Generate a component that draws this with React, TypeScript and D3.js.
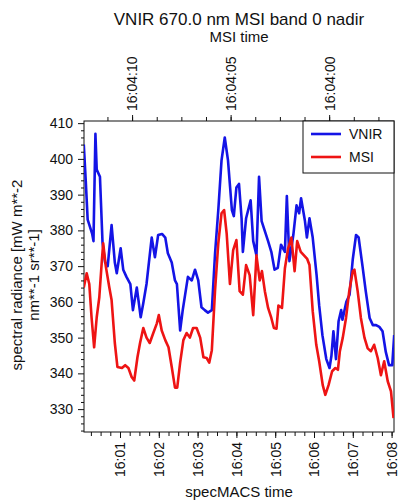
import { useRef, useEffect } from 'react'
import * as d3 from 'd3'

const width = 399
const height = 501
const margin = { top: 121, right: 5, bottom: 69, left: 84 }

// seconds after 16:00:00 (specMACS time) and radiance values
const vnirTime = [4, 7, 10, 17, 19, 22, 24, 29, 33, 37, 41, 47, 52, 55, 61, 65, 70, 76, 80, 86, 92, 96, 101, 109, 114, 119, 125, 130, 134, 140, 145, 148, 153, 157, 165, 171, 176, 181, 186, 191, 196, 202, 207, 212, 217, 222, 227, 233, 236, 240, 244, 248, 250, 255, 262, 266, 271, 275, 279, 284, 289, 294, 299, 304, 309, 315, 318, 322, 328, 333, 337, 340, 346, 349, 353, 358, 364, 368, 373, 379, 384, 387, 390, 394, 398, 402, 404, 410, 415, 420, 425, 429, 435, 440, 446, 451, 456, 461, 466, 471, 476, 481, 484]
const vnirRadiance = [404, 394, 383, 379, 377, 407, 397, 395, 376.5, 371, 370, 381.5, 371, 368, 375, 369, 367, 365, 357.7, 364, 355.7, 359.6, 365, 378, 372.5, 378.7, 379, 378, 373.6, 371, 366, 365, 352, 357.7, 367, 366, 369, 366, 358.5, 357.7, 357, 357.7, 373.6, 385.7, 399.6, 406, 399.6, 385.7, 384, 392, 393, 383.4, 374, 383.4, 388.4, 377, 373, 395, 382.6, 379.8, 377, 374, 369, 369.5, 376, 374, 389.6, 371.4, 378.7, 387, 384.8, 389, 382.6, 378, 383.4, 378, 367.5, 359, 350.7, 344, 341.5, 345, 351.8, 344, 354.6, 357.7, 355, 360, 362, 372, 378.7, 378, 370, 363, 355.5, 353.5, 353.5, 353, 351.8, 346, 342.3, 342.3, 350.7]

const msiTime = [4, 8.5, 12.5, 16, 20, 24, 28, 32, 34, 38, 43.5, 47, 52, 56, 63, 68, 73, 78, 82, 87, 91, 96, 101, 106, 111.5, 117, 120, 124.5, 130, 135, 140, 145, 148.5, 153, 158, 163, 168, 173, 178.5, 184, 189, 194, 198, 202, 207, 212, 217, 221, 225, 230, 235, 240, 245, 250, 255, 260.5, 266, 271, 276, 279.5, 284, 289, 294, 298, 302, 305, 310.5, 315, 320, 325, 330, 334, 339.5, 344.5, 349.5, 353, 358, 363.5, 368, 373.5, 377.5, 382.5, 388, 393, 397, 400, 404.5, 409.5, 414.5, 420, 422.5, 427.5, 432.5, 438, 443, 448, 453, 458.5, 463.5, 468.5, 474, 479, 483]
const msiRadiance = [364, 368, 365, 355.7, 347.3, 355.7, 361.3, 371.7, 376.4, 370, 364, 360.5, 348.5, 341.8, 341.5, 342.3, 341.5, 339, 338, 344.5, 348.5, 352.7, 350, 348.5, 351.3, 354, 356.3, 352, 349.3, 347.3, 341.8, 336, 336, 343, 349.3, 351.3, 350, 352.7, 352.7, 350, 344.5, 344.3, 343, 346.5, 363.3, 376.4, 384.8, 385.7, 379, 365, 374.5, 377.3, 363, 362, 370.3, 367.5, 356.3, 373, 366, 368.6, 363, 358.3, 355.5, 352.7, 352.5, 359, 358.3, 369.4, 375, 378, 368.6, 377, 374, 373, 372, 370.3, 357.4, 348, 343.4, 336.7, 334, 336.7, 340.6, 341.5, 341, 346.2, 350, 355.5, 363, 368.6, 369, 363, 355.5, 350, 347, 346.2, 348, 344.3, 339.5, 343.4, 337.8, 335, 327.5]

const specmacsTicks = ['16:01', '16:02', '16:03', '16:04', '16:05', '16:06', '16:07', '16:08']
const msiTicks = ['16:04:10', '16:04:05', '16:04:00']
const radianceTicks = [330, 340, 350, 360, 370, 380, 390, 400, 410]

const seriesNames = ['VNIR', 'MSI']
const seriesColors = ['#1414e6', '#ee1414']

const font = 'Liberation Sans, Arial, Helvetica, sans-serif'

const App = () => {
  const svgRef = useRef<SVGSVGElement>(null)

  useEffect(() => {
    const svg = d3.select(svgRef.current)
    svg.selectAll('*').remove()

    const innerW = width - margin.left - margin.right
    const innerH = height - margin.top - margin.bottom
    const base = d3.utcParse('%H:%M')('16:00') as Date
    const at = (s: number) => new Date(base.getTime() + s * 1000)
    const parseSec = d3.utcParse('%H:%M:%S')
    const parseMin = d3.utcParse('%H:%M')

    const x = d3.scaleUtc().domain([at(4.33), at(483.7)]).range([0, innerW])
    const xTop = d3.scaleUtc()
      .domain([at(252.44), at(236.71)])
      .range([0, innerW])
    const y = d3.scaleLinear().domain([323.6, 410.6]).range([innerH, 0])

    const g = svg.append('g').attr('transform', `translate(${margin.left},${margin.top})`)

    g.append('clipPath').attr('id', 'plot-clip')
      .append('rect').attr('width', innerW).attr('height', innerH)

    // minor ticks
    const minorBottom = d3.utcSecond.every(15)!.range(x.domain()[0], x.domain()[1])
    g.append('g').attr('transform', `translate(0,${innerH})`)
      .call(d3.axisBottom(x).tickValues(minorBottom).tickSize(4).tickFormat(() => ''))
      .call(a => a.select('.domain').remove())

    const minorTop = d3.utcMillisecond.every(1250)!.range(xTop.domain()[1], xTop.domain()[0])
    g.append('g')
      .call(d3.axisTop(xTop).tickValues(minorTop).tickSize(4).tickFormat(() => ''))
      .call(a => a.select('.domain').remove())

    const minorLeft = d3.range(324, 411, 2).filter(v => v % 10 !== 0)
    g.append('g')
      .call(d3.axisLeft(y).tickValues(minorLeft).tickSize(3).tickFormat(() => ''))
      .call(a => a.select('.domain').remove())

    // major axes
    const xAxis = g.append('g').attr('transform', `translate(0,${innerH})`)
      .call(d3.axisBottom(x)
        .tickValues(specmacsTicks.map(t => parseMin(t) as Date))
        .tickSize(6)
        .tickFormat(d => d3.utcFormat('%H:%M')(d as Date)))
    xAxis.select('.domain').remove()
    xAxis.selectAll('text')
      .attr('transform', 'rotate(-90)')
      .attr('x', -10).attr('y', 0).attr('dy', '0.35em')
      .attr('text-anchor', 'end')

    const topAxis = g.append('g')
      .call(d3.axisTop(xTop)
        .tickValues(msiTicks.map(t => parseSec(t) as Date))
        .tickSize(6)
        .tickFormat(d => d3.utcFormat('%H:%M:%S')(d as Date)))
    topAxis.select('.domain').remove()
    topAxis.selectAll('text')
      .attr('transform', 'rotate(-90)')
      .attr('x', 10).attr('y', 0).attr('dy', '0.35em')
      .attr('text-anchor', 'start')

    const yAxis = g.append('g')
      .call(d3.axisLeft(y).tickValues(radianceTicks).tickSize(6))
    yAxis.select('.domain').remove()
    yAxis.selectAll('text').attr('x', -11)

    g.selectAll('.tick text').attr('font-size', 14).attr('font-family', font).attr('fill', '#111')
    g.selectAll('.tick line').attr('stroke', '#111')

    // frame
    g.append('rect')
      .attr('width', innerW).attr('height', innerH)
      .attr('fill', 'none').attr('stroke', '#111').attr('stroke-width', 1)

    // lines
    const series = [
      { t: vnirTime, v: vnirRadiance },
      { t: msiTime, v: msiRadiance },
    ]
    const line = d3.line<[number, number]>()
      .x(d => x(at(d[0])))
      .y(d => y(d[1]))

    series.forEach((s, i) => {
      g.append('path')
        .datum(d3.zip(s.t, s.v) as [number, number][])
        .attr('clip-path', 'url(#plot-clip)')
        .attr('d', line)
        .attr('fill', 'none')
        .attr('stroke', seriesColors[i])
        .attr('stroke-width', 2.6)
        .attr('stroke-linejoin', 'round')
    })

    // legend
    const lg = g.append('g').attr('transform', `translate(${innerW - 91},0)`)
    lg.append('rect').attr('width', 91).attr('height', 52)
      .attr('fill', 'white').attr('stroke', '#111')
    seriesNames.forEach((name, i) => {
      const cy = 13 + i * 23
      lg.append('line').attr('x1', 8).attr('x2', 38).attr('y1', cy).attr('y2', cy)
        .attr('stroke', seriesColors[i]).attr('stroke-width', 2.6)
      lg.append('text').attr('x', 46).attr('y', cy).attr('dy', '0.35em')
        .attr('font-size', 14).attr('font-family', font).attr('fill', '#111')
        .text(name)
    })

    // titles
    const cx = margin.left + innerW / 2
    svg.append('text').attr('x', cx).attr('y', 25).attr('text-anchor', 'middle')
      .attr('font-size', 17).attr('font-family', font).attr('fill', '#111')
      .text('VNIR 670.0 nm MSI band 0 nadir')
    svg.append('text').attr('x', cx).attr('y', 42).attr('text-anchor', 'middle')
      .attr('font-size', 15).attr('font-family', font).attr('fill', '#111')
      .text('MSI time')
    svg.append('text').attr('x', cx).attr('y', 497).attr('text-anchor', 'middle')
      .attr('font-size', 15).attr('font-family', font).attr('fill', '#111')
      .text('specMACS time')

    const yl = svg.append('text')
      .attr('transform', `translate(22,275) rotate(-90)`)
      .attr('text-anchor', 'middle')
      .attr('font-size', 15).attr('font-family', font).attr('fill', '#111')
    yl.append('tspan').attr('x', 0).attr('y', 0).text('spectral radiance [mW m**-2')
    yl.append('tspan').attr('x', 0).attr('y', 17).text('nm**-1 sr**-1]')
  }, [])

  return (
    <svg
      ref={svgRef}
      width={width}
      height={height}
      style={{ position: 'absolute', left: 0, top: 0, background: 'white' }}
    />
  )
}

export default App
